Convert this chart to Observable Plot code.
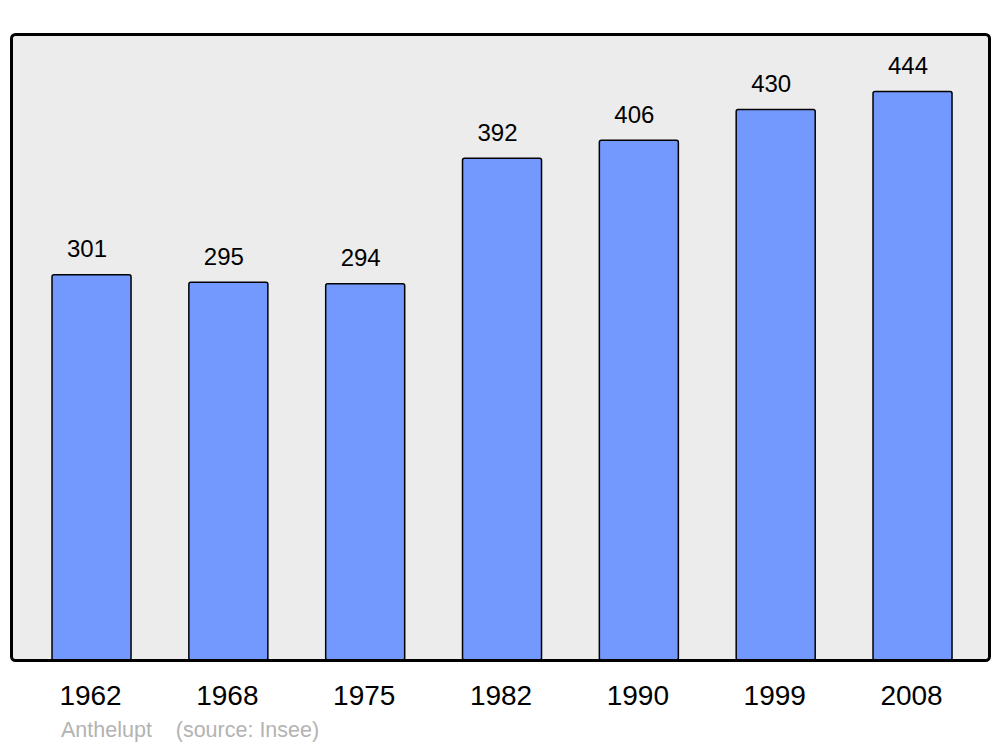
<!DOCTYPE html>
<html>
<head>
<meta charset="utf-8">
<script src="https://cdn.jsdelivr.net/npm/d3@7"></script>
<script src="https://cdn.jsdelivr.net/npm/@observablehq/plot@0.6"></script>
<style>
  html, body { margin: 0; padding: 0; background: #fff; }
  #wrap { position: relative; width: 1000px; height: 747px; font-family: "Liberation Sans", Arial, sans-serif; }
  #caption { position: absolute; left: 61px; top: 720px; font-size: 21.5px; line-height: 20px; color: #b3b3b3; white-space: pre; }
</style>
</head>
<body>
<div id="wrap"></div>
<script>
const years = ["1962", "1968", "1975", "1982", "1990", "1999", "2008"];
const population = [301, 295, 294, 392, 406, 430, 444];
const commune = "Anthelupt";
const source = "(source: Insee)";

const data = years.map((y, i) => ({year: y, pop: population[i]}));

const chart = Plot.plot({
  width: 1000,
  height: 715,
  marginTop: 34,
  marginBottom: 55,
  marginLeft: 11,
  marginRight: 11,
  style: {fontFamily: "\"Liberation Sans\", Arial, sans-serif", background: "transparent", color: "black"},
  x: {type: "band", domain: years, paddingInner: 0.4226, paddingOuter: 0.285, align: 0.526, round: false, label: null},
  y: {domain: [0, 489], axis: null},
  marks: [
    Plot.frame({fill: "#ececec", rx: 4}),
    Plot.barY(data, {x: "year", y: "pop", fill: "#7399ff", stroke: "black", strokeWidth: 1.5, rx: 2}),
    Plot.text(data, {x: "year", y: "pop", text: d => String(d.pop), dy: -18, dx: -5, lineAnchor: "bottom", fontSize: 24, fill: "black"}),
    Plot.frame({stroke: "black", strokeWidth: 3, rx: 4}),
    Plot.axisX({tickSize: 0, tickPadding: 25, fontSize: 28, dx: -1.5, color: "black", label: null})
  ]
});

const wrap = document.getElementById("wrap");
wrap.appendChild(chart);
const cap = document.createElement("div");
cap.id = "caption";
cap.textContent = commune + "    " + source;
wrap.appendChild(cap);
</script>
</body>
</html>
